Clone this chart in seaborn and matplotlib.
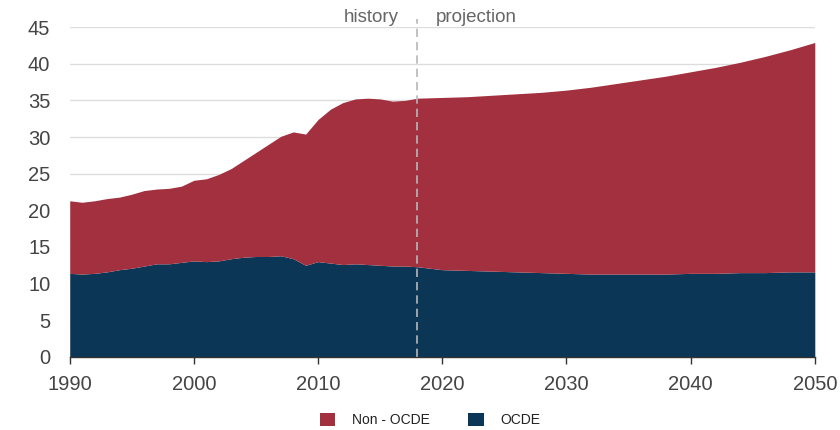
import numpy as np
import pandas as pd
import matplotlib
matplotlib.use("Agg")
import matplotlib.pyplot as plt
from matplotlib.patches import Patch
import seaborn as sns

years = [1990, 1991, 1992, 1993, 1994, 1995, 1996, 1997, 1998, 1999,
         2000, 2001, 2002, 2003, 2004, 2005, 2006, 2007, 2008, 2009,
         2010, 2011, 2012, 2013, 2014, 2015, 2016, 2017, 2018,
         2020, 2022, 2024, 2026, 2028, 2030, 2032, 2034, 2036, 2038,
         2040, 2042, 2044, 2046, 2048, 2050]
ocde = [11.4, 11.3, 11.4, 11.6, 11.9, 12.1, 12.4, 12.7, 12.7, 12.9,
        13.1, 13.0, 13.1, 13.4, 13.6, 13.7, 13.7, 13.8, 13.4, 12.5,
        13.0, 12.8, 12.6, 12.7, 12.6, 12.5, 12.4, 12.4, 12.3,
        11.9, 11.8, 11.7, 11.6, 11.5, 11.4, 11.3, 11.3, 11.3, 11.3,
        11.4, 11.4, 11.5, 11.5, 11.6, 11.6]
non_ocde = [9.9, 9.8, 9.9, 10.0, 9.9, 10.1, 10.3, 10.2, 10.3, 10.4,
            11.0, 11.3, 11.8, 12.3, 13.2, 14.2, 15.3, 16.3, 17.3, 17.9,
            19.4, 21.0, 22.1, 22.5, 22.7, 22.7, 22.5, 22.6, 23.0,
            23.5, 23.7, 24.0, 24.3, 24.6, 25.0, 25.5, 26.0, 26.5, 27.0,
            27.5, 28.1, 28.7, 29.5, 30.3, 31.3]
series_labels = ["Non - OCDE", "OCDE"]
x_ticks = [1990, 2000, 2010, 2020, 2030, 2040, 2050]
y_ticks = [0, 5, 10, 15, 20, 25, 30, 35, 40, 45]
split_year = 2018

RED = "#A3303F"
NAVY = "#0B3655"

sns.set_theme(style="whitegrid")
plt.rcParams['font.family'] = ['Liberation Sans', 'DejaVu Sans']

df = pd.DataFrame({"year": years, "OCDE": ocde, "Non - OCDE": non_ocde})

fig = plt.figure(figsize=(8.4, 4.3), dpi=100)
ax = fig.add_axes([0.083, 0.170, 0.887, 0.767])

ax.stackplot(df["year"], df["OCDE"], df["Non - OCDE"],
             colors=[NAVY, RED], linewidth=0, zorder=2)

ax.set_xlim(1990, 2050)
ax.set_ylim(0, 45)
ax.set_xticks(x_ticks)
ax.set_yticks(y_ticks)
ax.tick_params(axis='both', labelsize=14.5, colors='#444444')
ax.tick_params(axis='x', length=5, width=1, color='#333333', bottom=True, direction='out', pad=8)
ax.tick_params(axis='y', length=0, pad=14)
ax.grid(axis='y', color='#dddddd', linewidth=1)
ax.grid(axis='x', visible=False)
ax.set_axisbelow(True)
for s in ['left', 'right', 'top']:
    ax.spines[s].set_visible(False)
ax.spines['bottom'].set_color('#333333')
ax.spines['bottom'].set_linewidth(1)
ax.spines['bottom'].set_zorder(3)
ax.set_xlabel("")
ax.set_ylabel("")

ax.axvline(split_year, ymin=0, ymax=1.025, color='#b8b8b8', linestyle=(0, (5, 3)),
           linewidth=1.2, zorder=3, clip_on=False)
ax.text(split_year - 1.5, 45.7, "history", ha='right', va='baseline', fontsize=13.5, color='#666666')
ax.text(split_year + 1.5, 45.7, "projection", ha='left', va='baseline', fontsize=13.5, color='#666666')

handles = [Patch(facecolor=RED, edgecolor='none'), Patch(facecolor=NAVY, edgecolor='none')]
fig.legend(handles, series_labels, loc='center', bbox_to_anchor=(0.512, 0.023), ncol=2,
           frameon=False, fontsize=10, handlelength=1.1, handleheight=1.1,
           columnspacing=2.8, handletextpad=1.2, labelcolor='#222222')

fig.savefig("out.png", dpi=100, facecolor='white')
